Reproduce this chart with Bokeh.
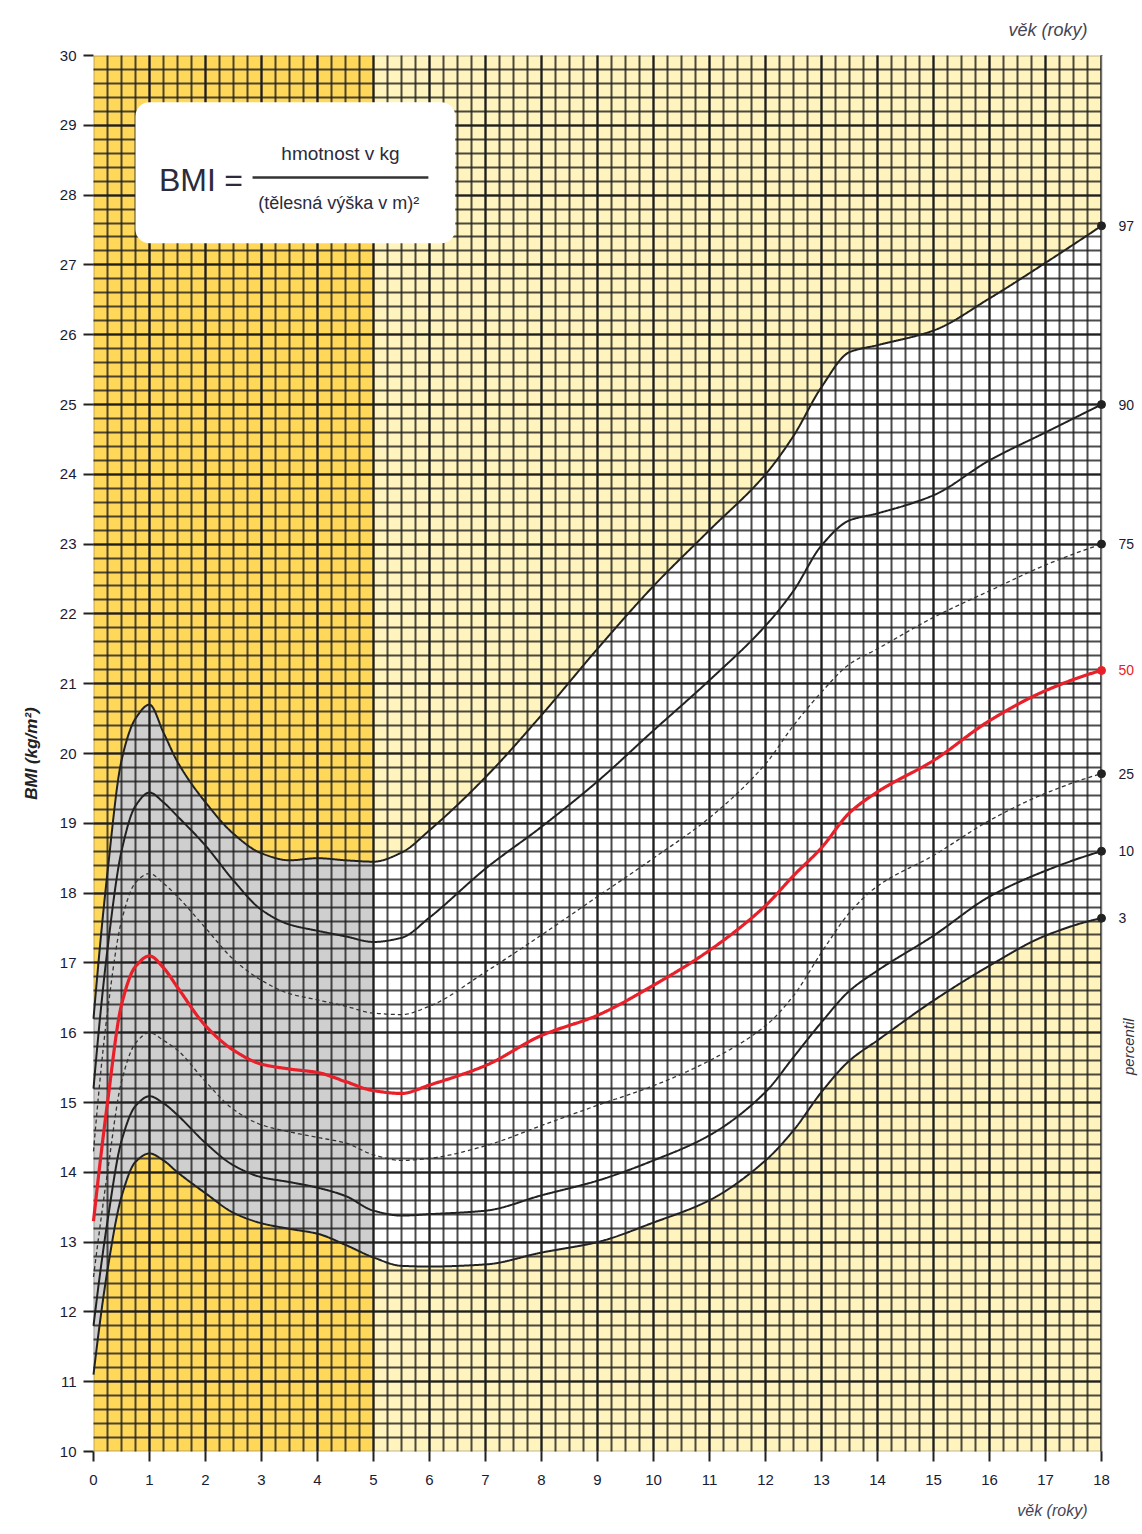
import numpy as np
from bokeh.plotting import figure
from bokeh.models import Range1d, SingleIntervalTicker, BoxAnnotation, Label, Title
from bokeh.embed import file_html
from bokeh.resources import INLINE

# ---------------- data ----------------
ages = [0, 0.25, 0.5, 0.75, 1, 1.25, 1.5, 2, 2.5, 3, 3.5, 4, 4.5, 5, 5.5, 6,
        7, 8, 9, 10, 11, 12, 12.5, 13, 13.5, 14, 15, 16, 17, 18]
p97 = [16.2, 18.3, 19.9, 20.5, 20.7, 20.3, 19.88, 19.3, 18.85, 18.57, 18.47, 18.5, 18.47, 18.45, 18.58, 18.9,
       19.66, 20.55, 21.5, 22.4, 23.2, 24.0, 24.55, 25.25, 25.75, 25.85, 26.06, 26.52, 27.03, 27.56]
p90 = [15.2, 17.2, 18.6, 19.25, 19.44, 19.3, 19.1, 18.68, 18.18, 17.76, 17.55, 17.46, 17.38, 17.3, 17.36, 17.65,
       18.35, 18.95, 19.6, 20.33, 21.05, 21.83, 22.33, 22.98, 23.34, 23.44, 23.7, 24.2, 24.6, 25.0]
p75 = [14.3, 16.3, 17.6, 18.15, 18.28, 18.14, 17.95, 17.5, 17.05, 16.75, 16.56, 16.47, 16.38, 16.28, 16.26, 16.38,
       16.87, 17.4, 17.95, 18.5, 19.08, 19.85, 20.4, 20.88, 21.28, 21.5, 21.95, 22.33, 22.7, 23.0]
p50 = [13.3, 15.0, 16.4, 16.95, 17.1, 16.93, 16.65, 16.1, 15.75, 15.55, 15.48, 15.43, 15.3, 15.17, 15.13, 15.25,
       15.53, 15.96, 16.25, 16.68, 17.18, 17.82, 18.25, 18.65, 19.15, 19.45, 19.9, 20.47, 20.9, 21.19]
p25 = [12.5, 14.0, 15.3, 15.85, 16.0, 15.89, 15.75, 15.3, 14.9, 14.68, 14.58, 14.5, 14.42, 14.25, 14.17, 14.2,
       14.38, 14.67, 14.96, 15.24, 15.6, 16.1, 16.53, 17.15, 17.72, 18.1, 18.54, 19.04, 19.43, 19.71]
p10 = [11.8, 13.3, 14.45, 14.95, 15.09, 14.99, 14.82, 14.42, 14.1, 13.93, 13.86, 13.78, 13.66, 13.45, 13.38, 13.4,
       13.45, 13.67, 13.88, 14.17, 14.53, 15.15, 15.65, 16.15, 16.6, 16.89, 17.39, 17.95, 18.32, 18.6]
p3 = [11.1, 12.6, 13.65, 14.15, 14.27, 14.17, 14.0, 13.7, 13.42, 13.27, 13.19, 13.12, 12.96, 12.78, 12.66, 12.65,
      12.68, 12.85, 13.0, 13.28, 13.6, 14.17, 14.6, 15.15, 15.6, 15.89, 16.46, 16.96, 17.39, 17.64]

percentile_names = ["97", "90", "75", "50", "25", "10", "3"]
age_min, age_max = 0, 18
bmi_min, bmi_max = 10, 30
preschool_edge = 5  # age where the background colour changes

formula_left = "BMI"
formula_eq = "="
formula_num = "hmotnost v kg"
formula_den = "(tělesná výška v m)²"
x_title = "věk (roky)"
y_title = "BMI (kg/m²)"
right_title = "percentil"

# ---------------- styling / layout ----------------
SANS = "Liberation Sans"
DARK_YELLOW = "#ffd85a"
LIGHT_YELLOW = "#fff4bd"
BAND_GREY = "#cfcfcf"
BAND_WHITE = "#ffffff"
GRID = "#1e1e1e"
RED = "#e8202a"
INK = "#222222"
TICK_INK = "#1a1a33"
W, H = 1142, 1534
LEFT, TOP, BOTTOM = 93, 55, 83
PX_PER_YEAR = 56.0
right_pad = (W - (LEFT + PX_PER_YEAR * (age_max - age_min))) / PX_PER_YEAR


def pchip(x, y, xs):
    x = np.asarray(x, float)
    y = np.asarray(y, float)
    h = np.diff(x)
    d = np.diff(y) / h
    n = len(x)
    m = np.zeros(n)
    for k in range(1, n - 1):
        if d[k - 1] * d[k] <= 0:
            m[k] = 0.0
        else:
            w1 = 2 * h[k] + h[k - 1]
            w2 = h[k] + 2 * h[k - 1]
            m[k] = (w1 + w2) / (w1 / d[k - 1] + w2 / d[k])
    m0 = ((2 * h[0] + h[1]) * d[0] - h[0] * d[1]) / (h[0] + h[1])
    m[0] = m0 if np.sign(m0) == np.sign(d[0]) else 0.0
    mn = ((2 * h[-1] + h[-2]) * d[-1] - h[-1] * d[-2]) / (h[-1] + h[-2])
    m[-1] = mn if np.sign(mn) == np.sign(d[-1]) else 0.0
    idx = np.clip(np.searchsorted(x, xs, side="right") - 1, 0, n - 2)
    t = (xs - x[idx]) / h[idx]
    h00 = 2 * t**3 - 3 * t**2 + 1
    h10 = t**3 - 2 * t**2 + t
    h01 = -2 * t**3 + 3 * t**2
    h11 = t**3 - t**2
    return h00 * y[idx] + h10 * h[idx] * m[idx] + h01 * y[idx + 1] + h11 * h[idx] * m[idx + 1]


p = figure(width=W, height=H,
           x_range=Range1d(age_min, age_max + right_pad), y_range=Range1d(bmi_min, bmi_max),
           output_backend="svg", toolbar_location=None,
           min_border_left=LEFT, min_border_right=0, min_border_top=TOP, min_border_bottom=BOTTOM)
p.background_fill_color = "white"
p.border_fill_color = "white"
p.outline_line_color = None

# background zones
p.quad(left=[age_min, preschool_edge], right=[preschool_edge, age_max],
       bottom=bmi_min, top=bmi_max, fill_color=[DARK_YELLOW, LIGHT_YELLOW], line_color=None)

# band between 3rd and 97th percentile
xs_a = np.linspace(ages[0], preschool_edge, 300)
xs_b = np.linspace(preschool_edge, ages[-1], 700)
p.varea(x=xs_a, y1=pchip(ages, p3, xs_a), y2=pchip(ages, p97, xs_a), fill_color=BAND_GREY)
p.varea(x=xs_b, y1=pchip(ages, p3, xs_b), y2=pchip(ages, p97, xs_b), fill_color=BAND_WHITE)

# axes / tickers / grid
xt = SingleIntervalTicker(interval=1, num_minor_ticks=4)
yt = SingleIntervalTicker(interval=1, num_minor_ticks=5)
p.xaxis.ticker = xt
p.yaxis.ticker = yt
p.xgrid.ticker = xt
p.ygrid.ticker = yt
p.xaxis.bounds = (age_min, age_max)
p.xgrid.bounds = (age_min, age_max)
for g in (p.xgrid, p.ygrid):
    g.level = "guide"
    g.grid_line_color = GRID
    g.grid_line_width = 2.0
    g.grid_line_alpha = 0.95
    g.minor_grid_line_color = GRID
    g.minor_grid_line_width = 2.0
    g.minor_grid_line_alpha = 0.8

for ax in (p.xaxis, p.yaxis):
    ax.axis_line_color = None
    ax.major_tick_line_color = INK
    ax.major_tick_line_width = 2
    ax.major_tick_out = 10
    ax.major_tick_in = 0
    ax.minor_tick_line_color = None
    ax.major_label_text_font = SANS
    ax.major_label_text_font_size = "15px"
    ax.major_label_text_color = TICK_INK
p.xaxis.major_label_standoff = 13
p.yaxis.major_label_standoff = 7
p.yaxis.axis_label = y_title
p.yaxis.axis_label_text_font = SANS
p.yaxis.axis_label_text_font_style = "bold italic"
p.yaxis.axis_label_text_font_size = "17px"
p.yaxis.axis_label_text_color = INK
p.yaxis.axis_label_standoff = 16

# cover grid beyond age 18, then frame outline
p.add_layout(BoxAnnotation(left=age_max, fill_color="white", fill_alpha=1, line_color=None))
p.add_layout(BoxAnnotation(left=age_min, right=age_max, bottom=bmi_min, top=bmi_max,
                           fill_alpha=0, line_color=INK, line_width=2))

# percentile curves
xs = np.linspace(ages[0], ages[-1], 1400)
series = [p97, p90, p75, p50, p25, p10, p3]
styles = [
    dict(line_color=INK, line_width=2),
    dict(line_color=INK, line_width=2),
    dict(line_color="#333333", line_width=1.3, line_dash="4 3"),
    dict(line_color=RED, line_width=3.2),
    dict(line_color="#333333", line_width=1.3, line_dash="4 3"),
    dict(line_color=INK, line_width=2),
    dict(line_color=INK, line_width=2),
]
for s, st in zip(series, styles):
    p.line(xs, pchip(ages, s, xs), level="overlay", **st)

ends = [s[-1] for s in series]
dot_colors = [RED if n == "50" else INK for n in percentile_names]
p.scatter(x=[ages[-1]] * len(ends), y=ends, size=8, color=dot_colors, level="overlay")

for n, e, c in zip(percentile_names, ends, dot_colors):
    p.add_layout(Label(x=ages[-1], y=e, x_offset=17, text=n, text_baseline="middle",
                       text_font=SANS, text_font_size="14px", text_color=c if c == RED else TICK_INK))

p.add_layout(Label(x=ages[-1], y=15.8, x_offset=27, text=right_title, angle=np.pi / 2,
                   text_align="center", text_baseline="middle", text_font=SANS,
                   text_font_style="italic", text_font_size="15px", text_color="#333344"))

# axis titles top right and bottom right
p.add_layout(Title(text=x_title, align="right", offset=55, standoff=32, text_font=SANS,
                   text_font_style="italic", text_font_size="18px", text_color="#444455"), "above")
p.add_layout(Title(text=x_title, align="right", offset=55, standoff=24, text_font=SANS,
                   text_font_style="italic", text_font_size="16px", text_color="#444455"), "below")

# formula box
p.add_layout(BoxAnnotation(left=0.75, right=6.46, top=29.33, bottom=27.31, fill_color="white",
                           fill_alpha=1, line_color=None, border_radius=14))
p.add_layout(BoxAnnotation(left=2.84, right=5.98, top=28.27, bottom=28.235, fill_color="#333333",
                           fill_alpha=1, line_color=None))
p.add_layout(Label(x=1.17, y=28.22, text=formula_left, text_baseline="middle",
                   text_font=SANS, text_font_size="32px", text_color="#2b2b3b"))
p.add_layout(Label(x=2.5, y=28.22, text=formula_eq, text_align="center", text_baseline="middle",
                   text_font=SANS, text_font_size="32px", text_color="#2b2b3b"))
p.add_layout(Label(x=4.41, y=28.6, text=formula_num, text_align="center", text_baseline="middle",
                   text_font=SANS, text_font_size="19px", text_color="#2b2b3b"))
p.add_layout(Label(x=4.38, y=27.88, text=formula_den, text_align="center", text_baseline="middle",
                   text_font=SANS, text_font_size="18px", text_color="#2b2b3b"))

open("out.html", "w").write(file_html(p, INLINE))
